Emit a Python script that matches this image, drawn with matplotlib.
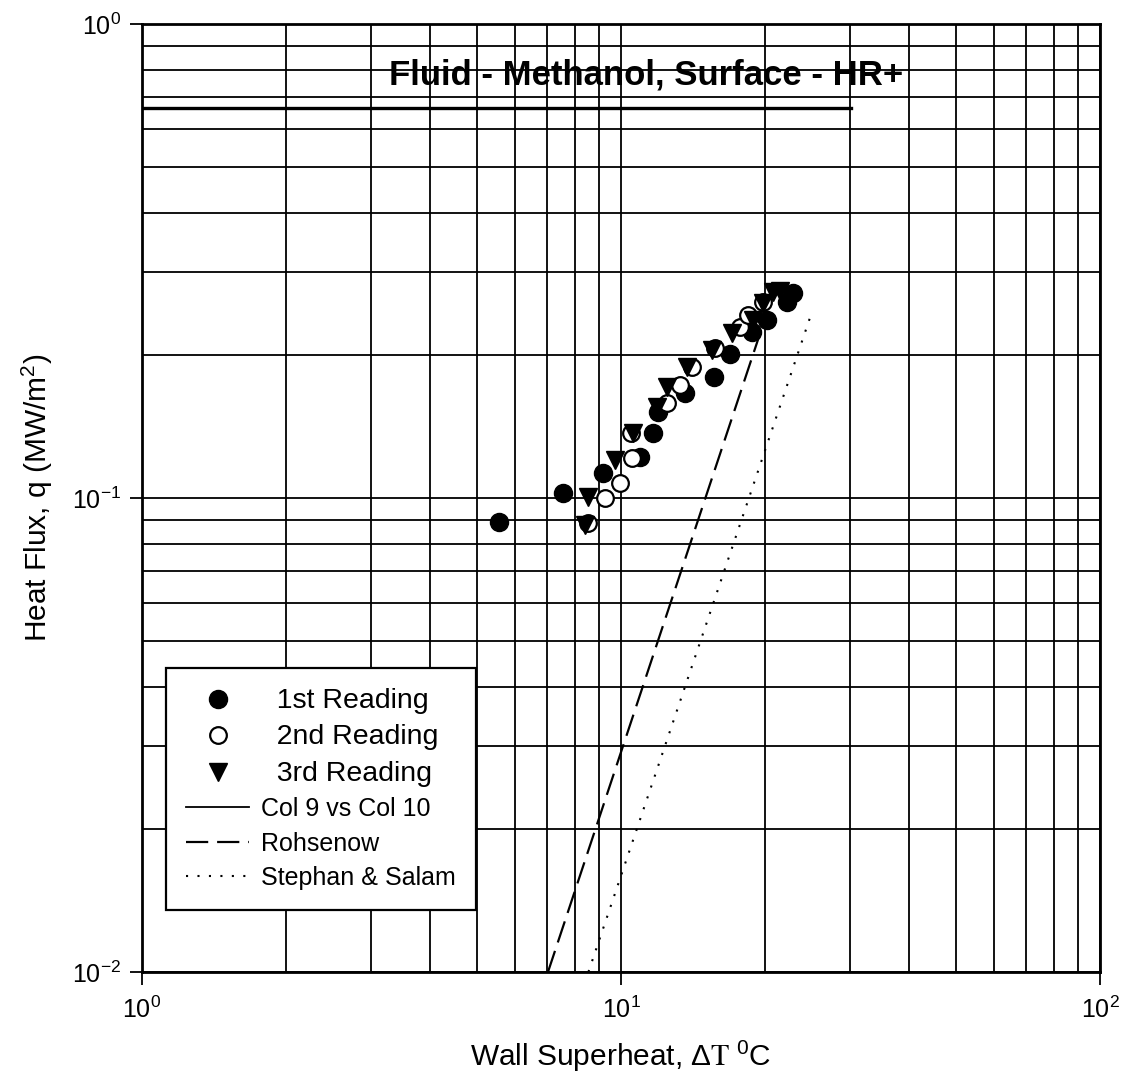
import matplotlib
matplotlib.use("Agg")
import matplotlib.pyplot as plt
from matplotlib.ticker import LogLocator, NullFormatter

plt.rcParams['font.family'] = ['Liberation Sans', 'DejaVu Sans']
plt.rcParams['mathtext.fontset'] = 'stix'
plt.rcParams['mathtext.default'] = 'regular'
plt.rcParams['axes.unicode_minus'] = False

# Pool boiling data - methanol on HR+ surface
dt_1 = [5.57, 7.58, 9.19, 10.96, 11.65, 11.96, 13.60, 15.64, 16.89, 18.75, 20.15, 22.18, 22.89]
q_1 = [0.0891, 0.1026, 0.1131, 0.1222, 0.1369, 0.1521, 0.1663, 0.1797, 0.2012, 0.2243, 0.2374, 0.2595, 0.2711]

dt_2 = [8.55, 9.26, 9.95, 10.53, 10.49, 12.46, 13.28, 14.05, 15.72, 17.72, 18.44, 19.82]
q_2 = [0.0884, 0.1001, 0.1074, 0.1216, 0.1369, 0.1584, 0.1731, 0.1887, 0.2069, 0.2298, 0.2432, 0.2595]

dt_3 = [8.41, 8.55, 9.72, 10.61, 11.87, 12.46, 13.72, 15.47, 17.02, 18.89, 19.82, 20.80, 21.47]
q_3 = [0.0877, 0.1006, 0.1203, 0.1369, 0.1558, 0.1717, 0.1892, 0.2052, 0.2226, 0.2374, 0.2575, 0.2724, 0.2729]

# correlations (end points of the straight log-log lines)
dt_rohsenow = [7.04, 19.67]
q_rohsenow = [0.01, 0.228]

dt_stephan = [8.55, 25.04]
q_stephan = [0.01, 0.247]

fig = plt.figure(figsize=(11.25, 10.92), dpi=100)
ax = fig.add_axes([0.1262, 0.1099, 0.8516, 0.8681])

ax.set_xscale('log')
ax.set_yscale('log')
ax.set_xlim(1, 100)
ax.set_ylim(0.01, 1)

ax.plot(dt_1, q_1, 'o', ls='none', color='black', ms=13, label='  1st Reading', zorder=4)
ax.plot(dt_2, q_2, 'o', ls='none', mfc='white', mec='black', mew=1.6, ms=12,
        label='  2nd Reading', zorder=4)
ax.plot(dt_3, q_3, 'v', ls='none', color='black', ms=13, label='  3rd Reading', zorder=4)
ax.plot([], [], '-', color='black', lw=1.3, label='Col 9 vs Col 10')
ax.plot(dt_rohsenow, q_rohsenow, color='black', lw=1.6, ls=(0, (10, 4)), label='Rohsenow', zorder=3)
ax.plot(dt_stephan, q_stephan, color='black', lw=1.5, ls=(0, (1, 4.5)), label='Stephan & Salam', zorder=3)

# log grid on every decade and sub-division
ax.xaxis.set_major_locator(LogLocator(base=10, numticks=10))
ax.yaxis.set_major_locator(LogLocator(base=10, numticks=10))
ax.xaxis.set_minor_locator(LogLocator(base=10, subs=range(2, 10), numticks=20))
ax.yaxis.set_minor_locator(LogLocator(base=10, subs=range(2, 10), numticks=20))
ax.xaxis.set_minor_formatter(NullFormatter())
ax.yaxis.set_minor_formatter(NullFormatter())
ax.grid(True, which='both', color='black', lw=1.3)
ax.set_axisbelow(True)

# box edge under the heading
ax.axhline(0.665, xmin=0, xmax=0.74, color='black', lw=2.4, zorder=1)

for s in ax.spines.values():
    s.set_linewidth(2)

ax.tick_params(which='major', direction='out', length=9, width=1.3, labelsize=18)
ax.tick_params(axis='x', which='major', pad=9)
ax.tick_params(axis='y', which='major', pad=6)
ax.tick_params(which='minor', length=0)

ax.text(0.526, 0.946, 'Fluid - Methanol, Surface - HR+', transform=ax.transAxes,
        ha='center', va='center', fontsize=25, fontweight='bold')

ax.set_xlabel(r'Wall Superheat, $\Delta\mathrm{T}\ ^{\mathdefault{0}}$C', fontsize=21.5)
ax.set_ylabel(r'Heat Flux, q (MW/m$^{\mathdefault{2}}$)', fontsize=21.5)
ax.xaxis.set_label_coords(0.5, -0.071)
ax.yaxis.set_label_coords(-0.091, 0.5)

leg = ax.legend(loc='lower left', bbox_to_anchor=(0.0125, 0.052), fontsize=18,
                frameon=True, fancybox=False, edgecolor='black', framealpha=1,
                handlelength=2.5, labelspacing=0.42, borderpad=0.8, handletextpad=0.5)
leg.get_frame().set_linewidth(1.6)
for t in leg.get_texts()[:3]:
    t.set_fontsize(20.5)

fig.savefig('out.png', dpi=100)
